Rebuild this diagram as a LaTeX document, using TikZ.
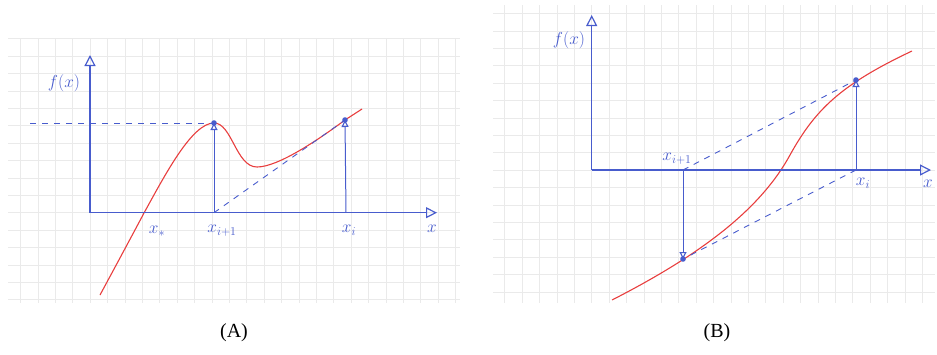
\documentclass[tikz,border=0pt]{standalone}
\usepackage{fontspec}
\setmainfont{Liberation Serif}
\usetikzlibrary{arrows.meta}
\definecolor{penblue}{RGB}{72,92,205}
\definecolor{penred}{RGB}{232,62,62}
\definecolor{gridgray}{RGB}{234,234,234}
\tikzset{
  gridline/.style={draw=gridgray, line width=0.6pt},
  axisline/.style={draw=penblue, line width=1.5pt, -{Triangle[open, length=11pt, width=11pt, line width=1.2pt]}},
  varrow/.style={draw=penblue, line width=1pt, -{Triangle[open, length=7pt, width=7pt, line width=1.1pt]}},
  dashline/.style={draw=penblue, line width=0.9pt, dash pattern=on 6pt off 6pt},
  curve/.style={draw=penred, line width=1.1pt},
  ptdot/.style={fill=penblue},
  hand/.style={text=penblue, font=\fontsize{17}{19}\selectfont, inner sep=1pt},
  caption/.style={font=\fontsize{20}{24}\selectfont, inner sep=0pt}
}
\begin{document}
\begin{tikzpicture}[x=1pt,y=-1pt]
\useasboundingbox (0,0) rectangle (937,354);
% paper grids
\foreach \k in {-4,...,21} {\draw[gridline] ({90+17.4*\k},38) -- ({90+17.4*\k},303);}
\foreach \k in {-10,...,5} {\draw[gridline] (8,{212.7+17.4*\k}) -- (460,{212.7+17.4*\k});}
\foreach \k in {-5,...,19} {\draw[gridline] ({591.7+17.4*\k},5) -- ({591.7+17.4*\k},303);}
\foreach \k in {-9,...,7} {\draw[gridline] (493,{170+17.4*\k}) -- (935,{170+17.4*\k});}

% ---------------- Panel A ----------------
\coordinate (Ao) at (90,212.7);
\coordinate (Ay) at (90,55);
\coordinate (Ax) at (437,212.7);
\coordinate (Ad) at (30,123);
\coordinate (Apk) at (214,123);
\coordinate (Apkb) at (214,212.7);
\coordinate (Ai) at (345,120);
\coordinate (Aib) at (346,212.7);

\draw[curve] (100,295) .. controls (120,258) and (135,230) .. (144,213)
  .. controls (165,175) and (192,123) .. (Apk)
  .. controls (232,123) and (236,167) .. (257,167)
  .. controls (278,167) and (318,140) .. (Ai)
  -- (362,109);
\draw[dashline] (Ad) -- (Apk);
\draw[dashline] (Apkb) -- (Ai);
\draw[axisline] (Ao) -- (Ay);
\draw[axisline] (Ao) -- (Ax);
\draw[varrow] (Apkb) -- (Apk);
\draw[varrow] (Aib) -- (Ai);
\fill[ptdot] (Apk) circle (2.8);
\fill[ptdot] (Ai) circle (2.8);

\node[hand] (Afx) at (64,83) {$f(x)$};
\node[hand] (Axs) at (157,231) {$x_*$};
\node[hand] (Axi1) at (222,231) {$x_{i+1}$};
\node[hand] (Axi) at (349,230) {$x_i$};
\node[hand] (Axl) at (432,229) {$x$};
\node[caption] (capA) at (234,333) {(A)};

% ---------------- Panel B ----------------
\coordinate (Bo) at (591.7,170);
\coordinate (By) at (591.7,15);
\coordinate (Bx) at (931,170);
\coordinate (Bi) at (856,80);
\coordinate (Bib) at (856,170);
\coordinate (Bj) at (683,259);
\coordinate (Bjb) at (683,170);

\draw[curve] (612,300) .. controls (700,255) and (760,210) .. (790,155)
  .. controls (815,110) and (840,85) .. (912,51);
\draw[dashline] (Bjb) -- (Bi);
\draw[dashline] (Bib) -- (Bj);
\draw[axisline] (Bo) -- (By);
\draw[axisline] (Bo) -- (Bx);
\draw[varrow] (Bib) -- (Bi);
\draw[varrow] (Bjb) -- (Bj);
\fill[ptdot] (Bi) circle (2.8);
\fill[ptdot] (Bj) circle (2.8);

\node[hand] (Bfx) at (569,40) {$f(x)$};
\node[hand] (Bxi1) at (677,159) {$x_{i+1}$};
\node[hand] (Bxi) at (863,183) {$x_i$};
\node[hand] (Bxl) at (928,184) {$x$};
\node[caption] (capB) at (717,333) {(B)};
\end{tikzpicture}
\end{document}
